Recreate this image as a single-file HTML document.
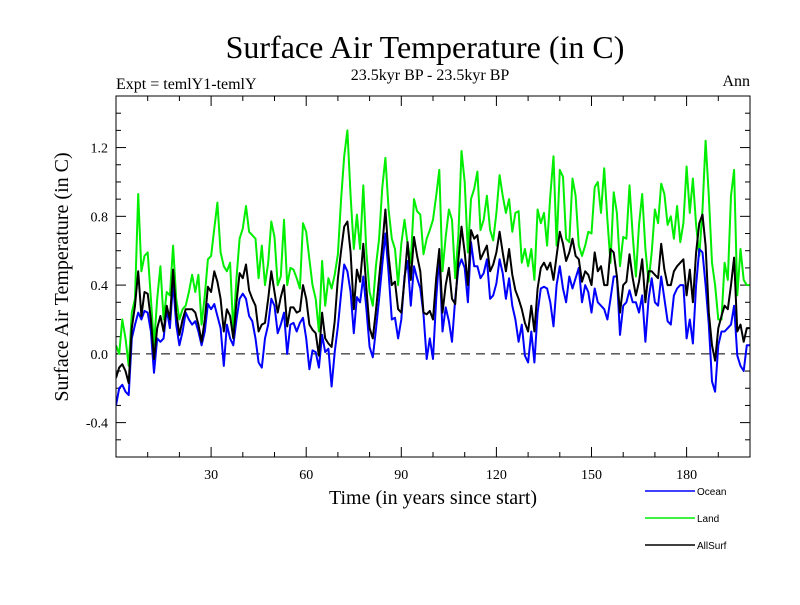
<!DOCTYPE html>
<html><head><meta charset="utf-8"><style>
body{margin:0;background:#fff}
svg text{font-family:"Liberation Serif",serif}
</style></head><body>
<svg id="c" width="800" height="600" xmlns="http://www.w3.org/2000/svg">
<text x="425" y="58" font-size="32" text-anchor="middle">Surface Air Temperature (in C)</text>
<text x="430" y="80" font-size="16" text-anchor="middle">23.5kyr BP - 23.5kyr BP</text>
<text x="116" y="89" font-size="16">Expt = temlY1-temlY</text>
<text x="750" y="86" font-size="16" text-anchor="end">Ann</text>
<text transform="translate(68,277) rotate(-90)" font-size="20" text-anchor="middle">Surface Air Temperature (in C)</text>
<text x="433" y="504" font-size="20" text-anchor="middle">Time (in years since start)</text>
<g id="axes"></g>
<g id="series"></g>
<rect x="116" y="96" width="634" height="361" fill="none" stroke="#000" stroke-width="1"/>
<g>
<line x1="645" y1="491" x2="695" y2="491" stroke="#0000ff" stroke-width="1.5"/>
<text x="697" y="495" font-size="10" style="font-family:'Liberation Sans',sans-serif">Ocean</text>
<line x1="645" y1="518" x2="695" y2="518" stroke="#00ee00" stroke-width="1.5"/>
<text x="697" y="522" font-size="10" style="font-family:'Liberation Sans',sans-serif">Land</text>
<line x1="645" y1="545" x2="695" y2="545" stroke="#000" stroke-width="1.5"/>
<text x="697" y="549" font-size="10" style="font-family:'Liberation Sans',sans-serif">AllSurf</text>
</g>
</svg>
<script>
const xTicks=[30,60,90,120,150,180];
const yTicks=[-0.4,0.0,0.4,0.8,1.2];
const yTickLabels=["-0.4","0.0","0.4","0.8","1.2"];
const ocean=[-0.30,-0.20,-0.18,-0.22,-0.24,0.09,0.17,0.24,0.20,0.25,0.24,0.13,-0.11,0.09,0.07,0.09,0.26,0.15,0.42,0.17,0.05,0.13,0.24,0.20,0.17,0.19,0.13,0.05,0.13,0.29,0.26,0.29,0.22,0.15,-0.07,0.17,0.09,0.05,0.20,0.32,0.35,0.32,0.22,0.19,0.09,-0.05,-0.08,0.09,0.17,0.32,0.28,
0.12,0.17,0.24,0.0,0.17,0.18,0.13,0.18,0.21,0.09,-0.09,0.02,0.01,-0.08,0.11,0.01,0.03,-0.19,0.01,0.16,0.35,0.52,0.48,0.36,0.12,0.33,0.30,0.45,0.26,0.04,-0.02,0.14,0.32,0.52,0.70,0.47,0.20,0.21,0.09,0.20,0.45,0.54,0.28,0.51,0.44,0.38,0.23,-0.03,0.09,
-0.03,0.32,0.57,0.13,0.27,0.19,0.07,0.32,0.50,0.55,0.50,0.30,0.65,0.51,0.51,0.44,0.47,0.55,0.32,0.34,0.41,0.55,0.47,0.32,0.44,0.28,0.20,0.07,0.17,-0.01,-0.05,0.13,-0.05,0.24,0.38,0.39,0.38,0.30,0.16,0.40,0.51,0.38,0.30,0.45,0.38,0.44,0.50,0.30,0.40,0.36,
0.24,0.38,0.30,0.28,0.26,0.20,0.32,0.45,0.45,0.11,0.28,0.30,0.37,0.30,0.30,0.24,0.34,0.07,0.32,0.44,0.30,0.28,0.45,0.32,0.19,0.17,0.34,0.38,0.40,0.40,0.09,0.20,0.06,0.40,0.61,0.59,0.40,0.17,-0.16,-0.22,0.05,0.13,0.13,0.15,0.17,0.28,-0.01,-0.07,-0.10,0.05,0.05];
const land=[0.05,0.0,0.20,0.09,-0.07,0.24,0.32,0.93,0.48,0.57,0.59,0.32,0.05,0.32,0.51,0.20,0.36,0.34,0.63,0.32,0.20,0.26,0.28,0.36,0.46,0.36,0.46,0.17,0.34,0.55,0.57,0.73,0.88,0.59,0.51,0.48,0.53,0.13,0.44,0.67,0.73,0.86,0.71,0.69,0.67,0.44,0.63,0.40,0.53,0.77,0.68,
0.40,0.45,0.78,0.40,0.50,0.49,0.44,0.38,0.76,0.71,0.55,0.40,0.32,0.13,0.54,0.28,0.44,0.38,0.46,0.58,0.90,1.15,1.30,0.92,0.61,0.81,0.61,0.98,0.59,0.36,0.28,0.51,0.67,0.97,1.14,0.84,0.67,0.61,0.40,0.64,0.78,0.64,0.53,0.90,0.83,0.81,0.58,0.67,0.72,
0.78,0.92,1.07,0.48,0.68,0.84,0.78,0.44,0.69,1.18,1.00,0.59,0.90,0.96,1.06,0.72,0.78,0.92,0.72,0.66,0.82,1.04,0.92,0.82,0.90,0.71,0.82,0.83,0.53,0.61,0.51,0.61,0.43,0.84,0.76,0.82,0.63,0.92,1.15,0.63,1.07,1.03,0.67,0.65,1.02,0.92,0.63,0.57,0.63,0.71,
0.70,0.97,1.00,0.82,1.08,0.78,0.53,0.94,0.82,0.51,0.68,0.67,0.98,0.69,0.45,0.75,0.93,0.61,0.42,0.59,0.84,0.76,0.99,0.93,0.75,0.80,0.67,0.86,0.65,0.76,1.09,0.82,1.02,0.75,0.57,0.84,1.24,0.92,0.53,0.40,0.20,0.20,0.53,0.43,0.92,1.07,0.34,0.61,0.43,0.40,0.40];
const allsurf=[-0.14,-0.08,-0.06,-0.10,-0.17,0.15,0.28,0.48,0.22,0.36,0.35,0.20,-0.03,0.15,0.22,0.13,0.28,0.20,0.49,0.24,0.11,0.20,0.26,0.26,0.26,0.24,0.17,0.07,0.20,0.39,0.36,0.48,0.42,0.32,0.13,0.26,0.22,0.09,0.30,0.47,0.44,0.52,0.37,0.32,0.28,0.13,0.17,0.18,0.32,0.48,0.36,
0.24,0.33,0.40,0.16,0.27,0.27,0.24,0.25,0.40,0.32,0.17,0.14,0.12,-0.01,0.24,0.09,0.06,0.04,0.19,0.44,0.60,0.74,0.77,0.59,0.26,0.49,0.42,0.64,0.38,0.15,0.09,0.25,0.44,0.63,0.84,0.57,0.40,0.42,0.26,0.24,0.43,0.65,0.43,0.68,0.57,0.48,0.24,0.23,0.25,
0.20,0.44,0.61,0.24,0.40,0.50,0.32,0.29,0.55,0.74,0.59,0.40,0.72,0.67,0.69,0.55,0.59,0.63,0.48,0.52,0.59,0.71,0.59,0.48,0.61,0.46,0.37,0.32,0.26,0.18,0.13,0.28,0.13,0.38,0.50,0.53,0.49,0.53,0.43,0.57,0.71,0.64,0.54,0.59,0.67,0.57,0.55,0.42,0.48,0.46,
0.40,0.59,0.48,0.51,0.40,0.40,0.61,0.59,0.45,0.24,0.40,0.42,0.58,0.44,0.34,0.42,0.55,0.30,0.48,0.48,0.46,0.44,0.64,0.49,0.40,0.40,0.48,0.51,0.53,0.55,0.34,0.49,0.30,0.59,0.76,0.81,0.63,0.24,0.05,-0.04,0.15,0.22,0.28,0.26,0.40,0.56,0.13,0.17,0.07,0.15,0.15];

const NS='http://www.w3.org/2000/svg';
const X0=116,X1=750,Y0=96,Y1=457,XMIN=0,XMAX=200,YMIN=-0.6,YMAX=1.5;
const xs=v=>X0+(v-XMIN)/(XMAX-XMIN)*(X1-X0);
const ys=v=>Y1-(v-YMIN)/(YMAX-YMIN)*(Y1-Y0);
function mk(tag,attrs,parent){const e=document.createElementNS(NS,tag);for(const k in attrs)e.setAttribute(k,attrs[k]);parent.appendChild(e);return e;}
const axes=document.getElementById('axes');
// minor x ticks
for(let v=10;v<XMAX;v+=10){
  const big=xTicks.includes(v),L=big?10:5;
  const t1=mk('line',{x1:xs(v),x2:xs(v),y1:Y1,y2:Y1-L,stroke:'#000'},axes);
  
  
  const t2=mk('line',{x1:xs(v),x2:xs(v),y1:Y0,y2:Y0+L,stroke:'#000'},axes);
  
  
}
xTicks.forEach(v=>{
  const t=mk('text',{x:xs(v),y:Y1+22,'font-size':14,'text-anchor':'middle'},axes);t.textContent=v;
  
  
});
for(let i=-5;i<=14;i++){
  const v=i/10;const big=(i%4===0),L=big?10:5;
  const t1=mk('line',{x1:X0,x2:X0+L,y1:ys(v),y2:ys(v),stroke:'#000'},axes);
  
  
  const t2=mk('line',{x1:X1,x2:X1-L,y1:ys(v),y2:ys(v),stroke:'#000'},axes);
  
  
}
yTicks.forEach((v,i)=>{
  const t=mk('text',{x:X0-8,y:ys(v)+5,'font-size':14,'text-anchor':'end'},axes);t.textContent=yTickLabels[i];
  
  
});
const zl=mk('line',{x1:X0,x2:X1,y1:ys(0),y2:ys(0),stroke:'#000','stroke-dasharray':'9,6'},axes);


const sg=document.getElementById('series');
const defs=mk('defs',{},sg);const cp=mk('clipPath',{id:'clip'},defs);mk('rect',{x:X0,y:Y0,width:X1-X0,height:Y1-Y0},cp);
function draw(arr,color,name){
  const d=arr.map((v,i)=>(i?'L':'M')+xs(i).toFixed(1)+','+ys(v).toFixed(1)).join('');
  const p=mk('path',{d:d,fill:'none',stroke:color,'stroke-width':2,'stroke-linejoin':'round','clip-path':'url(#clip)'},sg);
  
  
}
draw(land,'#00ee00','land-line');
draw(ocean,'#0000ff','ocean-line');
draw(allsurf,'#000000','allsurf-line');
</script>
</body></html>
